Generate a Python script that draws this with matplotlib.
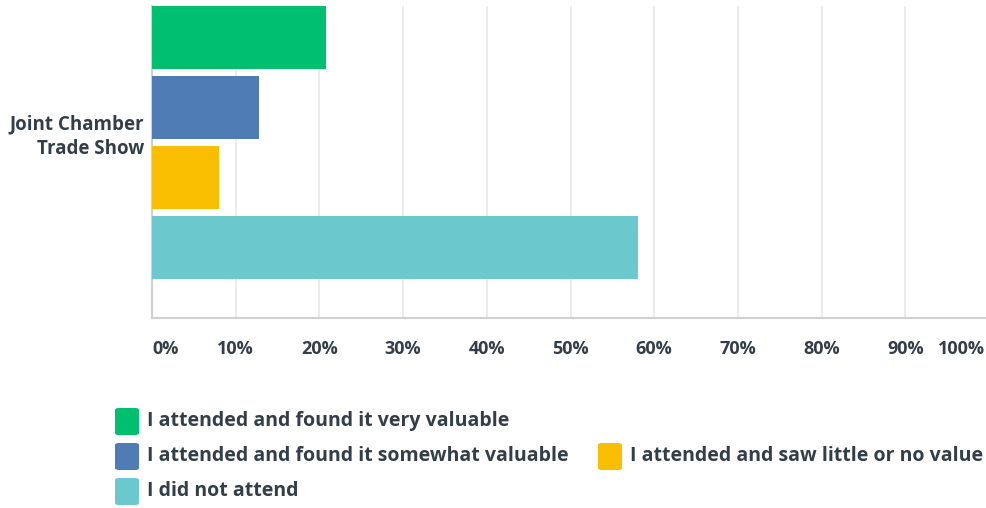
import matplotlib.pyplot as plt
from matplotlib.patches import FancyBboxPatch

# Datos
categoria = "Joint Chamber\nTrade Show"
respuestas = ["I attended and found it very valuable",
              "I attended and found it somewhat valuable",
              "I attended and saw little or no value",
              "I did not attend"]
porcentajes = [20.8, 12.8, 8.0, 58.1]
colores = ["#00BF6F", "#507CB6", "#F9BE00", "#6BC8CD"]
ticks = [0, 10, 20, 30, 40, 50, 60, 70, 80, 90, 100]
tick_labels = [f"{t}%" for t in ticks]

texto = "#333E48"
plt.rcParams["font.family"] = ["Open Sans", "DejaVu Sans"]

W, H = 987, 508
fig = plt.figure(figsize=(W / 100, H / 100), dpi=100)
ax = fig.add_axes([152 / W, 1 - 318 / H, (989 - 152) / W, (318 - 6) / H])

pos = list(range(len(porcentajes)))
ax.barh(pos, porcentajes, height=0.9, color=colores, zorder=3)
ax.set_xlim(0, 100)
ax.set_ylim(4.0, -0.45)

# la ultima etiqueta (100%) va aparte para que no se corte en el borde
ax.set_xticks(ticks)
ax.set_xticklabels(tick_labels[:-1] + [""], fontsize=13, fontweight="bold", color=texto)
ax.get_xticklabels()[0].set_horizontalalignment("left")
ax.annotate(tick_labels[-1], xy=(ticks[-1], 0), xycoords=("data", "axes fraction"),
            xytext=(-3, -16), textcoords="offset points", ha="right", va="top",
            fontsize=13, fontweight="bold", color=texto)
ax.tick_params(axis="x", length=0, pad=16)
ax.set_yticks([])
ax.grid(axis="x", color="#E8E8E8", linewidth=1.2, zorder=0)
for s in ["top", "right"]:
    ax.spines[s].set_visible(False)
ax.spines["left"].set_color("#D0D0D0")
ax.spines["bottom"].set_color("#D0D0D0")
ax.spines["left"].set_linewidth(1.5)
ax.spines["bottom"].set_linewidth(1.5)

ax.text(-0.009, 0.58, categoria, transform=ax.transAxes, ha="right", va="center",
        fontsize=13.5, fontweight="bold", color=texto, linespacing=1.3)

# Leyenda manual
def leyenda(x, y, color, label):
    fig.patches.append(FancyBboxPatch(((x) / W, 1 - (y + 14) / H), 24 / W, 27 / H,
                                      boxstyle="round,pad=0,rounding_size=0.004",
                                      transform=fig.transFigure, facecolor=color,
                                      edgecolor="none"))
    fig.text((x + 32) / W, 1 - y / H, label, ha="left", va="center",
             fontsize=14, fontweight="bold", color=texto)

leyenda(115, 421, colores[0], respuestas[0])
leyenda(115, 456, colores[1], respuestas[1])
leyenda(598, 456, colores[2], respuestas[2])
leyenda(115, 491, colores[3], respuestas[3])

fig.savefig("out.png", dpi=100)
